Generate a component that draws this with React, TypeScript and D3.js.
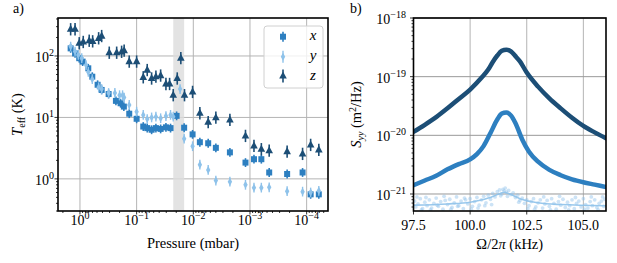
import React from "react";
import * as d3 from "d3";

const W = 617;
const H = 263;
const FONT = "Liberation Serif, DejaVu Serif, Times New Roman, serif";

const C_DARK = "#1c4e76";
const C_MID = "#2d7fc0";
const C_LIGHT = "#8ec2ea";

// ---- panel a: effective temperature vs pressure ----
const xPressure = [1.46, 1.22, 1.03, 0.897, 0.713, 0.606, 0.488, 0.414, 0.312, 0.232, 0.192, 0.168, 0.135, 0.1, 0.0764, 0.065, 0.0544, 0.0457, 0.0377, 0.0304, 0.0252, 0.0197, 0.0145, 0.0103, 0.00766, 0.00546, 0.004, 0.00226, 0.0012, 0.00085, 0.00063, 0.000458, 0.000221, 0.000118, 0.000085, 0.000061];
const xTeff = [133, 110, 92, 81, 63, 46, 34, 28, 24, 18.6, 17, 15, 11.5, 9.5, 7.1, 6.7, 6.3, 6.7, 6.5, 6.9, 6.7, 10.6, 6.8, 5.3, 3.95, 3.8, 3.2, 2.7, 1.84, 2.09, 2.09, 1.27, 1.2, 1.27, 0.56, 0.56];

const yPressure = [1.46, 1.22, 1.07, 0.93, 0.78, 0.713, 0.606, 0.468, 0.414, 0.312, 0.242, 0.2, 0.177, 0.166, 0.135, 0.1, 0.0764, 0.065, 0.0544, 0.0457, 0.0377, 0.0304, 0.0252, 0.0226, 0.0171, 0.0145, 0.0103, 0.00766, 0.00546, 0.004, 0.00226, 0.0012, 0.00085, 0.00063, 0.000458, 0.000221, 0.000118, 0.000085, 0.000061];
const yTeff = [142, 118, 104, 92, 71, 55, 42, 31, 29, 25, 25, 23, 23, 21, 16, 12.4, 11, 9.4, 10, 10.3, 9.7, 10.5, 11, 10.3, 29, 4.5, 3.4, 1.7, 1.4, 0.94, 0.9, 0.8, 0.72, 0.72, 0.73, 0.63, 0.62, 0.6, 0.64];

const zPressure = [1.46, 1.22, 1.03, 0.875, 0.686, 0.597, 0.468, 0.414, 0.304, 0.225, 0.184, 0.166, 0.135, 0.1, 0.0764, 0.065, 0.0544, 0.0457, 0.0377, 0.0304, 0.0262, 0.0226, 0.0192, 0.0166, 0.0143, 0.0103, 0.00766, 0.00546, 0.004, 0.00226, 0.0012, 0.00085, 0.00063, 0.000458, 0.000221, 0.000118, 0.000085, 0.000061];
const zTeff = [272, 272, 161, 169, 177, 173, 194, 211, 113, 113, 117, 122, 81, 81, 45, 59, 43, 46, 48, 35, 35, 23, 43, 92, 23, 26, 11.7, 8.4, 9.9, 9.1, 5.0, 3.44, 3.04, 2.88, 2.78, 2.55, 3.57, 2.97];

const relErr = { x: 0.18, y: 0.2, z: 0.26 };
const band = [0.0226, 0.0145];

// ---- panel b: spectra, log10 of S_yy (m^2/Hz) ----
const darkFreq = [97.5, 98, 98.5, 99, 99.5, 100, 100.5, 100.8, 101, 101.2, 101.4, 101.6, 101.8, 102, 102.2, 102.5, 103, 103.5, 104, 104.5, 105, 105.5, 106];
const darkLog = [-19.94, -19.82, -19.69, -19.54, -19.38, -19.22, -19.02, -18.88, -18.75, -18.64, -18.56, -18.54, -18.57, -18.65, -18.74, -18.93, -19.17, -19.37, -19.54, -19.7, -19.84, -19.95, -20.05];

const midFreq = [97.5, 98, 98.5, 99, 99.5, 100, 100.3, 100.6, 100.9, 101.2, 101.4, 101.6, 101.8, 102, 102.3, 102.6, 103, 103.5, 104, 104.5, 105, 105.5, 106];
const midLog = [-20.85, -20.77, -20.69, -20.58, -20.49, -20.41, -20.32, -20.18, -19.96, -19.73, -19.63, -19.61, -19.66, -19.79, -20.07, -20.28, -20.45, -20.59, -20.68, -20.75, -20.8, -20.84, -20.88];

const lightFitFreq = [97.5, 99, 100, 100.8, 101.2, 101.5, 101.8, 102.2, 103, 104, 106];
const lightFitLog = [-21.19, -21.17, -21.14, -21.07, -21.01, -20.97, -21.01, -21.08, -21.15, -21.18, -21.2];

const lightDots: [number, number][] = [
  [97.55, -21.12], [97.6, -21.22], [97.65, -21.05], [97.7, -21.17], [97.8, -21.08], [97.85, -21.27], [97.9, -21.25], [98.0, -21.14], [98.05, -21.06],
  [98.1, -21.2], [98.2, -21.1], [98.25, -21.27], [98.3, -21.24], [98.4, -21.16], [98.5, -21.07], [98.55, -21.19], [98.6, -21.21], [98.7, -21.13],
  [98.8, -21.26], [98.85, -21.04], [98.9, -21.11], [99.0, -21.18], [99.1, -21.09], [99.15, -21.26], [99.2, -21.23], [99.3, -21.15], [99.4, -21.05],
  [99.45, -21.21], [99.5, -21.2], [99.6, -21.12], [99.7, -21.25], [99.75, -21.07], [99.8, -21.1], [99.9, -21.17], [100.0, -21.08], [100.05, -21.26],
  [100.1, -21.21], [100.2, -21.13], [100.3, -21.06], [100.35, -21.24], [100.4, -21.19], [100.5, -21.1], [100.6, -21.04], [100.65, -21.2],
  [100.7, -21.15], [100.8, -21.02], [100.9, -21.09], [100.95, -21.18], [101.0, -20.99], [101.1, -21.05], [101.2, -20.96], [101.3, -20.93],
  [101.35, -21.03], [101.4, -21.0], [101.45, -20.92], [101.5, -20.95], [101.55, -20.9], [101.6, -20.97], [101.65, -21.04], [101.7, -20.94],
  [101.8, -21.01], [101.9, -20.98], [102.0, -21.06], [102.1, -21.02], [102.15, -21.14], [102.2, -21.11], [102.3, -21.07], [102.4, -21.16],
  [102.5, -21.1], [102.55, -21.25], [102.6, -21.2], [102.7, -21.13], [102.8, -21.08], [102.85, -21.26], [102.9, -21.22], [103.0, -21.15],
  [103.1, -21.1], [103.2, -21.24], [103.25, -21.05], [103.3, -21.17], [103.4, -21.11], [103.5, -21.21], [103.55, -21.27], [103.6, -21.08],
  [103.7, -21.16], [103.8, -21.26], [103.9, -21.13], [103.95, -21.04], [104.0, -21.19], [104.1, -21.09], [104.2, -21.23], [104.3, -21.14],
  [104.35, -21.27], [104.4, -21.2], [104.5, -21.1], [104.6, -21.25], [104.65, -21.06], [104.7, -21.16], [104.8, -21.12], [104.9, -21.22],
  [105.0, -21.08], [105.05, -21.26], [105.1, -21.18], [105.2, -21.24], [105.3, -21.13], [105.35, -21.05], [105.4, -21.2], [105.5, -21.1],
  [105.6, -21.23], [105.65, -21.27], [105.7, -21.16], [105.8, -21.12], [105.85, -21.05], [105.9, -21.21], [105.95, -21.09],
];

const pa = { l: 58, r: 328, t: 18, b: 211 };
const pb = { l: 413.5, r: 606, t: 18, b: 211 };

const xA = d3.scaleLog().domain([2.44, 4.2e-5]).range([pa.l, pa.r]);
const yA = d3.scaleLog().domain([0.3, 415]).range([pa.b, pa.t]);
const xB = d3.scaleLinear().domain([97.5, 106]).range([pb.l, pb.r]);
const yB = d3.scaleLog().domain([Math.pow(10, -21.29), 1e-18]).range([pb.b, pb.t]);

const isDecade = (v: number) => Math.abs(Math.log10(v) - Math.round(Math.log10(v))) < 1e-6;

const squarePath = "M-3,-3H3V3H-3Z";
const diamondPath = "M0,-4L2.2,0L0,4L-2.2,0Z";
const trianglePath = "M0,-4.5L3.8,2.6L-3.8,2.6Z";

const txt = { fontFamily: FONT };

function Pow({ x, y, exp, anchor }: { x: number; y: number; exp: number; anchor: string }) {
  const e = exp < 0 ? "\u2212" + Math.abs(exp) : String(exp);
  return (
    <text x={x} y={y} textAnchor={anchor} fontSize={14} style={txt}>
      10<tspan dy={-6} fontSize={10}>{e}</tspan>
    </text>
  );
}

function Series({ p, t, err, color, path, bw }: any) {
  return (
    <g>
      {p.map((pv: number, i: number) => {
        const cx = xA(pv);
        const cy = yA(t[i]);
        return (
          <g key={i}>
            <line x1={cx} x2={cx} y1={yA(t[i] * (1 + err))} y2={yA(t[i] / (1 + err))} stroke={color} strokeWidth={bw} />
            <path d={path} transform={`translate(${cx},${cy})`} fill={color} />
          </g>
        );
      })}
    </g>
  );
}

const App = () => {
  const ticksA = xA.ticks();
  const yticksA = yA.ticks();
  const yticksB = yB.ticks();
  const xticksB = [97.5, 100, 102.5, 105];
  const grid = "#b4b4b4";

  const line = d3
    .line<[number, number]>()
    .x((d) => xB(d[0]))
    .y((d) => yB(Math.pow(10, d[1])))
    .curve(d3.curveMonotoneX);

  const zip = (f: number[], v: number[]) => f.map((x, i) => [x, v[i]] as [number, number]);

  return (
    <svg width={W} height={H} style={{ position: "absolute", left: 0, top: 0, background: "#fff", fontFamily: FONT }}>
      <defs>
        <clipPath id="clipB">
          <rect x={pb.l} y={pb.t} width={pb.r - pb.l} height={pb.b - pb.t} />
        </clipPath>
        <clipPath id="clipA">
          <rect x={pa.l} y={pa.t} width={pa.r - pa.l} height={pa.b - pa.t} />
        </clipPath>
      </defs>

      {/* ---------- panel a ---------- */}
      <text x={13} y={13} fontSize={14} style={txt}>a)</text>
      {ticksA.filter(isDecade).map((v) => (
        <line key={"gx" + v} x1={xA(v)} x2={xA(v)} y1={pa.t} y2={pa.b} stroke={grid} strokeWidth={1} />
      ))}
      {yticksA.filter(isDecade).map((v) => (
        <line key={"gy" + v} x1={pa.l} x2={pa.r} y1={yA(v)} y2={yA(v)} stroke={grid} strokeWidth={1} />
      ))}
      <rect x={xA(band[0])} y={pa.t} width={xA(band[1]) - xA(band[0])} height={pa.b - pa.t} fill="#dcdcdc" opacity={0.8} />

      <g clipPath="url(#clipA)">
        <Series p={xPressure} t={xTeff} err={relErr.x} color={C_MID} path={squarePath} bw={1.6} />
        <Series p={yPressure} t={yTeff} err={relErr.y} color={C_LIGHT} path={diamondPath} bw={1.4} />
        <Series p={zPressure} t={zTeff} err={relErr.z} color={C_DARK} path={trianglePath} bw={1.6} />
      </g>

      {/* legend */}
      <rect x={264} y={26} width={59} height={62} rx={3} fill="#fff" fillOpacity={0.8} stroke="#d0d0d0" strokeWidth={1} />
      {[
        { c: C_MID, p: squarePath, t: "x", y: 36.7, bw: 1.6, e: 5 },
        { c: C_LIGHT, p: diamondPath, t: "y", y: 56.7, bw: 1.4, e: 6 },
        { c: C_DARK, p: trianglePath, t: "z", y: 76, bw: 1.6, e: 6.5 },
      ].map((d) => (
        <g key={d.t}>
          <line x1={283} x2={283} y1={d.y - d.e} y2={d.y + d.e} stroke={d.c} strokeWidth={d.bw} />
          <path d={d.p} transform={`translate(283,${d.y})`} fill={d.c} />
          <text x={313} y={d.y + 3.5} fontSize={15} fontStyle="italic" textAnchor="middle" style={txt}>{d.t}</text>
        </g>
      ))}

      {/* axes a ticks */}
      {ticksA.map((v) => (
        <line key={"tx" + v} x1={xA(v)} x2={xA(v)} y1={pa.b} y2={pa.b + (isDecade(v) ? 3.5 : 2)} stroke="#000" strokeWidth={0.8} />
      ))}
      {ticksA.filter(isDecade).map((v) => (
        <Pow key={"lx" + v} x={xA(v)} y={225} exp={Math.round(Math.log10(v))} anchor="middle" />
      ))}
      {yticksA.map((v) => (
        <line key={"ty" + v} x1={pa.l - (isDecade(v) ? 3.5 : 2)} x2={pa.l} y1={yA(v)} y2={yA(v)} stroke="#000" strokeWidth={0.8} />
      ))}
      {yticksA.filter(isDecade).map((v) => (
        <Pow key={"ly" + v} x={54} y={yA(v) + 6} exp={Math.round(Math.log10(v))} anchor="end" />
      ))}
      <rect x={pa.l} y={pa.t} width={pa.r - pa.l} height={pa.b - pa.t} fill="none" stroke="#000" strokeWidth={1.6} />
      <text x={(pa.l + pa.r) / 2} y={248} fontSize={14.5} textAnchor="middle" style={txt}>Pressure (mbar)</text>
      <text transform={`translate(22,${(pa.t + pa.b) / 2}) rotate(-90)`} fontSize={14.5} textAnchor="middle" style={txt}>
        <tspan fontStyle="italic">T</tspan>
        <tspan fontSize={10} dy={3}>eff</tspan>
        <tspan dy={-3}> (K)</tspan>
      </text>

      {/* ---------- panel b ---------- */}
      <text x={350} y={13} fontSize={14} style={txt}>b)</text>
      {xticksB.map((v) => (
        <line key={"gbx" + v} x1={xB(v)} x2={xB(v)} y1={pb.t} y2={pb.b} stroke={grid} strokeWidth={1} />
      ))}
      {yticksB.filter(isDecade).map((v) => (
        <line key={"gby" + v} x1={pb.l} x2={pb.r} y1={yB(v)} y2={yB(v)} stroke="#999" strokeWidth={1} />
      ))}
      <g clipPath="url(#clipB)">
        {lightDots.map((d, i) => (
          <circle key={i} cx={xB(d[0])} cy={yB(Math.pow(10, d[1]))} r={1.9} fill={C_LIGHT} fillOpacity={0.45} />
        ))}
        <path d={line(zip(lightFitFreq, lightFitLog)) || ""} fill="none" stroke={C_LIGHT} strokeWidth={1.6} strokeOpacity={0.9} />
        <path d={line(zip(midFreq, midLog)) || ""} fill="none" stroke={C_MID} strokeWidth={4.5} strokeLinecap="round" />
        <path d={line(zip(darkFreq, darkLog)) || ""} fill="none" stroke={C_DARK} strokeWidth={4.5} strokeLinecap="round" />
      </g>
      {xticksB.map((v) => (
        <g key={"tbx" + v}>
          <line x1={xB(v)} x2={xB(v)} y1={pb.b} y2={pb.b + 3.5} stroke="#000" strokeWidth={0.8} />
          <text x={xB(v)} y={230} fontSize={14} textAnchor="middle" style={txt}>{v.toFixed(1)}</text>
        </g>
      ))}
      {yticksB.map((v) => (
        <line key={"tby" + v} x1={pb.l - (isDecade(v) ? 3.5 : 2)} x2={pb.l} y1={yB(v)} y2={yB(v)} stroke="#000" strokeWidth={0.8} />
      ))}
      {yticksB.filter(isDecade).map((v) => (
        <Pow key={"lby" + v} x={406} y={yB(v) + 6} exp={Math.round(Math.log10(v))} anchor="end" />
      ))}
      <rect x={pb.l} y={pb.t} width={pb.r - pb.l} height={pb.b - pb.t} fill="none" stroke="#000" strokeWidth={1.6} />
      <text x={(pb.l + pb.r) / 2} y={249} fontSize={14.5} textAnchor="middle" style={txt}>
        Ω/2<tspan fontStyle="italic">π</tspan> (kHz)
      </text>
      <text transform={`translate(361,${(pb.t + pb.b) / 2}) rotate(-90)`} fontSize={14.5} textAnchor="middle" style={txt}>
        <tspan fontStyle="italic">S</tspan>
        <tspan fontSize={10} dy={3} fontStyle="italic">yy</tspan>
        <tspan dy={-3}> (m</tspan>
        <tspan fontSize={10} dy={-5}>2</tspan>
        <tspan dy={5}>/Hz)</tspan>
      </text>
    </svg>
  );
};

export default App;
